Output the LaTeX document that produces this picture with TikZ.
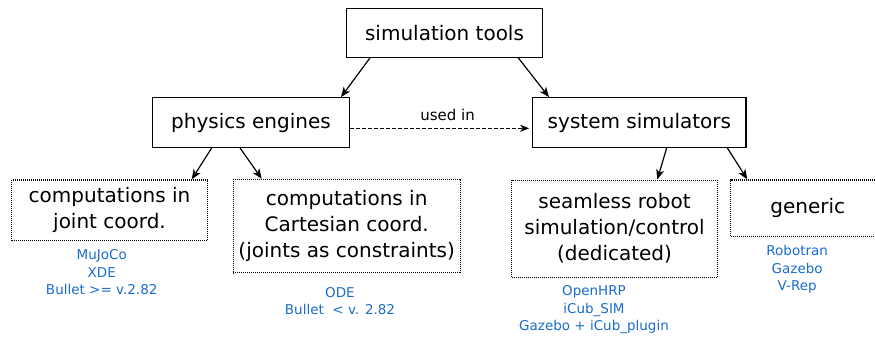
\documentclass[tikz,border=0pt]{standalone}
\usepackage{fontspec}
\setmainfont{DejaVu Sans}
\usetikzlibrary{arrows.meta}
\definecolor{linkblue}{RGB}{26,108,204}
\begin{document}
\begin{tikzpicture}[x=1pt,y=-1pt,
  solidbox/.style={draw, line width=1.2pt, inner sep=0pt, align=center, font=\fontsize{20}{26}\selectfont},
  dotbox/.style={draw, line width=1.1pt, dash pattern=on 1pt off 1pt, inner sep=0pt, align=center, font=\fontsize{20}{26}\selectfont},
  bluetext/.style={text=linkblue, align=center, inner sep=0pt, font=\fontsize{13.5}{17.5}\selectfont},
  arr/.style={line width=1.2pt, -{Stealth[length=10pt,width=8pt,inset=2.8pt]}},
]
\useasboundingbox (0,0) rectangle (875,337);
\clip (0,0) rectangle (875,337);

\node[solidbox, minimum width=195.6pt, minimum height=49pt] (tools) at (444.5,32.8) {simulation tools};
\node[solidbox, minimum width=196.6pt, minimum height=49.6pt] (phys) at (251,122.5) {physics engines};
\node[solidbox, minimum width=213.3pt, minimum height=49.6pt] (sys) at (639.4,122.5) {system simulators};

\node[dotbox, minimum width=195.6pt, minimum height=60.7pt] (joint) at (109.5,210.3) {computations in\\joint coord.};
\node[dotbox, minimum width=226.7pt, minimum height=93.4pt] (cart) at (346.7,226) {computations in\\Cartesian coord.\\(joints as constraints)};
\node[dotbox, minimum width=205.6pt, minimum height=97.3pt] (seam) at (614.5,228.7) {seamless robot\\simulation/control\\(dedicated)};
\node[dotbox, minimum width=154pt, minimum height=56.7pt] (gen) at (807.7,208.3) {generic};

\node[bluetext] (b1) at (101.7,272.3) {MuJoCo\\XDE\\Bullet >= v.2.82};
\node[bluetext] (b2) at (340,301.3) {ODE\\Bullet\ \ < v. 2.82};
\node[bluetext] (b3) at (594,309.7) {OpenHRP\\iCub\_SIM\\Gazebo + iCub\_plugin};
\node[bluetext] (b4) at (797.2,269.5) {Robotran\\Gazebo\\V-Rep};

\draw[arr] ([xshift=-74.5pt]tools.south) -- ([xshift=90pt]phys.north);
\draw[arr] ([xshift=73.8pt]tools.south) -- ([xshift=-90.4pt]sys.north);

\draw[arr] ([xshift=-39.3pt]phys.south) -- ([xshift=82.2pt]joint.north);
\draw[arr] ([xshift=-11pt]phys.south) -- ([xshift=-85pt]cart.north);
\draw[arr] ([xshift=27.3pt]sys.south) -- ([xshift=42.8pt]seam.north);
\draw[arr] ([xshift=87.9pt]sys.south) -- ([xshift=-60.4pt]gen.north);

\draw[line width=1.1pt, dash pattern=on 4pt off 2pt, -{Stealth[length=9pt,width=7pt,inset=2.5pt]}]
  ([yshift=-5.8pt]phys.east) -- ([yshift=-5.8pt,xshift=-3pt]sys.west)
  node[pos=0.545, above=6.8pt, inner sep=0pt, font=\fontsize{15}{18}\selectfont] (lbl) {used in};
\end{tikzpicture}
\end{document}
